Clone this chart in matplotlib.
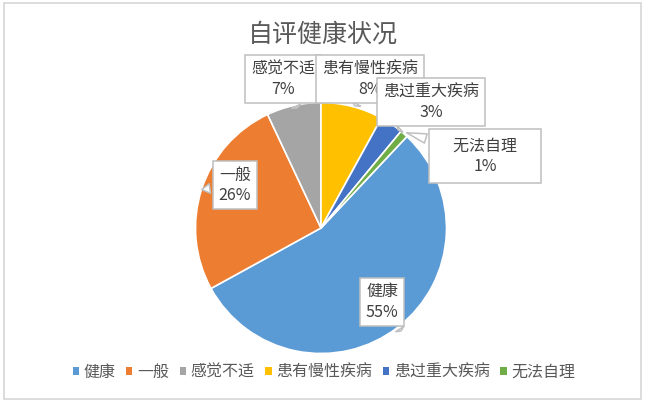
import matplotlib.pyplot as plt
from matplotlib.patches import Rectangle, Patch

plt.rcParams['font.family'] = ['Noto Sans CJK SC', 'DejaVu Sans']

categories = ["健康", "一般", "感觉不适", "患有慢性疾病", "患过重大疾病", "无法自理"]
shares = [55, 26, 7, 8, 3, 1]
colors = ["#5B9BD5", "#ED7D31", "#A5A5A5", "#FFC000", "#4472C4", "#70AD47"]

W, H = 650, 404
fig = plt.figure(figsize=(W / 100, H / 100), dpi=100)

def px(x, y):
    # pixel position (from top-left) -> figure fraction
    return (x / W, 1 - y / H)

# chart frame
fig.patches.append(Rectangle(px(4, 399), 637 / W, 396 / H, transform=fig.transFigure,
                             fill=False, ec="#D9D9D9", lw=1.3))

cx, cy, r = 321, 228, 125.5
ax = fig.add_axes([(cx - r) / W, 1 - (cy + r) / H, 2 * r / W, 2 * r / H])
ax.pie(shares, colors=colors, startangle=90 - 360 * sum(shares[3:]) / 100, counterclock=False,
       wedgeprops=dict(edgecolor="white", linewidth=1.2), radius=1)
ax.set_xlim(-1, 1)
ax.set_ylim(-1, 1)
ax.set_aspect("equal")
ax.axis("off")

fig.text(*px(323, 35), "自评健康状况", ha="center", va="center", fontsize=18, color="#595959")

# callout labels: box centre and tail tip, in pixels
label_pos = {
    "健康": ((382, 302), (401, 331)),
    "一般": ((235, 185), (199, 190)),
    "感觉不适": ((283, 79), (297, 108)),
    "患有慢性疾病": ((370, 79), (355, 106)),
    "患过重大疾病": ((431, 102), (398, 130)),
    "无法自理": ((485, 156), (404, 132)),
}
order = ["健康", "一般", "感觉不适", "患有慢性疾病", "无法自理", "患过重大疾病"]
for name in order:
    i = categories.index(name)
    (bx, by), (tx, ty) = label_pos[name]
    text = f"{name}\n{shares[i]}%"
    pad = 0.35
    if name == "无法自理":
        text = f"\u3000{name}\u3000\n{shares[i]}%"
        pad = 0.5
    fig.add_artist(plt.Annotation(
        text, xy=px(tx, ty), xytext=px(bx, by),
        xycoords="figure fraction", textcoords="figure fraction",
        ha="center", va="center", fontsize=11.5, color="#404040", linespacing=1.25,
        bbox=dict(boxstyle=f"square,pad={pad}", fc="white", ec="#BFBFBF", lw=1.1),
        arrowprops=dict(arrowstyle="wedge,tail_width=0.6,shrink_factor=0.5",
                        fc="white", ec="#BFBFBF", lw=1.1)))

handles = [Patch(facecolor=c, edgecolor="none") for c in colors]
fig.legend(handles, categories, loc="center", bbox_to_anchor=px(324, 372), ncol=6,
           frameon=False, fontsize=11.5, labelcolor="#595959", handlelength=0.4,
           handleheight=0.4, handletextpad=0.3, columnspacing=0.65)

fig.savefig("out.png", dpi=100)
